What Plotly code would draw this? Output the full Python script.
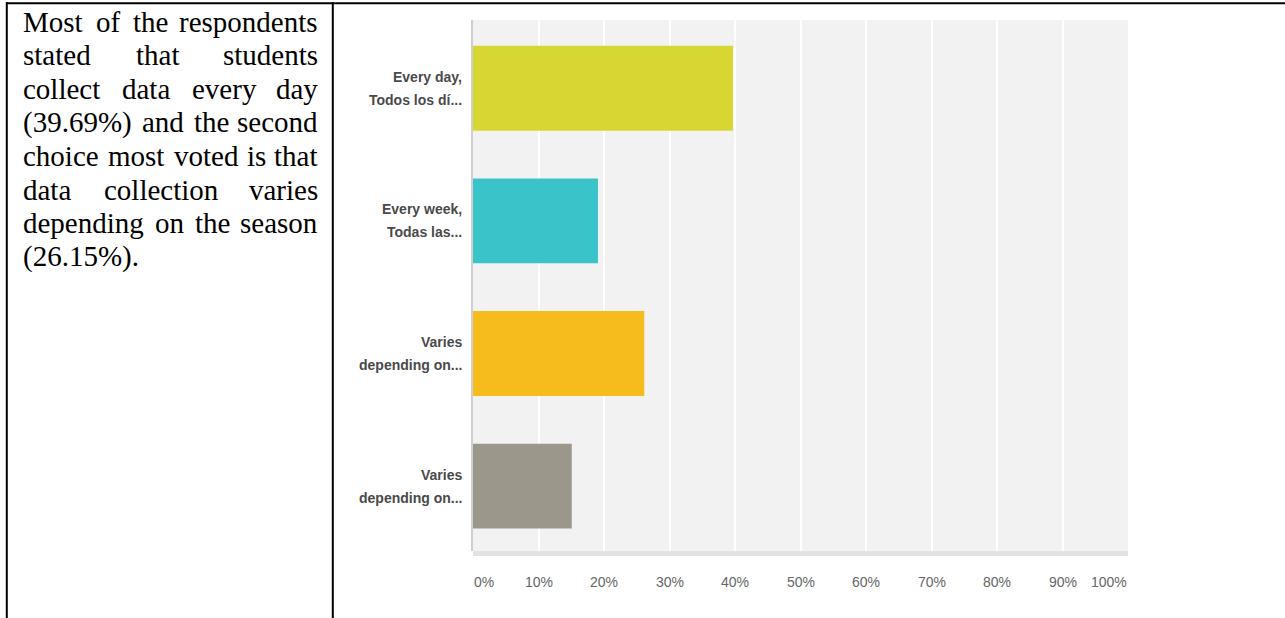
import plotly.graph_objects as go

# ---- data -------------------------------------------------------------
label_lines = [
    ("Every day,", "Todos los dí..."),
    ("Every week,", "Todas las..."),
    ("Varies", "depending on..."),
    ("Varies", "depending on..."),
]
percentages = [39.69, 19.08, 26.15, 15.08]
bar_colors = ["#d7d734", "#3ac4c9", "#f6bc1e", "#9b988b"]

tick_values = [0, 10, 20, 30, 40, 50, 60, 70, 80, 90, 100]
tick_labels = ["0%", "10%", "20%", "30%", "40%", "50%", "60%", "70%", "80%", "90%", "100%"]

body_lines = [
    "Most of the respondents",
    "stated that students",
    "collect data every day",
    "(39.69%) and the second",
    "choice most voted is that",
    "data collection varies",
    "depending on the season",
    "(26.15%).",
]

# ---- page geometry (pixels) ------------------------------------------
W, H = 1285, 618


def px_x(px):
    return px / W


def px_y(py):
    return 1 - py / H


# Times advance widths (1/1000 em) used to justify the text column
TIMES_W = {
    " ": 250, "(": 333, ")": 333, "%": 833, ".": 250,
    "a": 444, "c": 444, "d": 500, "e": 444, "f": 333, "g": 500, "h": 500,
    "i": 278, "l": 278, "m": 778, "n": 500, "o": 500, "p": 500, "r": 333,
    "s": 389, "t": 278, "u": 500, "v": 500, "y": 500, "M": 889,
}


def word_width(word, size):
    return sum(TIMES_W.get(ch, 500) for ch in word) * size / 1000.0


# ---- figure ------------------------------------------------------------
positions = list(range(len(percentages)))

fig = go.Figure(
    go.Bar(
        x=percentages,
        y=positions,
        orientation="h",
        marker=dict(color=bar_colors, line=dict(width=0)),
        width=0.64,
        hoverinfo="skip",
    )
)

annotations = []

# category labels, two lines per bar
for pos, (first, second) in zip(positions, label_lines):
    for text, shift in ((first, 11.5), (second, -11.5)):
        annotations.append(dict(
            x=px_x(463), xref="paper", xanchor="right",
            y=pos, yref="y", yanchor="middle", yshift=shift,
            text=text, showarrow=False, borderpad=0,
            font=dict(family="Liberation Sans, Arial", size=14,
                      color="#4a4a4a", weight="bold"),
        ))

# percentage axis labels
for v, lbl in zip(tick_values, tick_labels):
    anchor = "left" if v == tick_values[0] else ("right" if v == tick_values[-1] else "center")
    annotations.append(dict(
        x=v, xref="x", xanchor=anchor,
        y=px_y(582), yref="paper", yanchor="middle",
        text=lbl, showarrow=False, borderpad=0,
        font=dict(family="Liberation Sans, Arial", size=14, color="#666666"),
    ))

# justified text column on the left
FS = 29
left_px, right_px = 22.0, 318.5
first_center, line_step = 22.0, 33.5
for k, line in enumerate(body_lines):
    words = line.split(" ")
    yc = px_y(first_center + k * line_step)
    font = dict(family="Liberation Serif, Times New Roman, serif", size=FS, color="#000000")
    last_line = k == len(body_lines) - 1
    if len(words) == 1 or last_line:
        annotations.append(dict(
            x=px_x(left_px), xref="paper", xanchor="left",
            y=yc, yref="paper", yanchor="middle",
            text=line, showarrow=False, borderpad=0, font=font,
        ))
        continue
    widths = [word_width(w, FS) for w in words]
    gap = (right_px - left_px - sum(widths)) / (len(words) - 1)
    cursor = left_px
    for i, (w, wd) in enumerate(zip(words, widths)):
        if i == len(words) - 1:
            x, anchor = right_px, "right"
        else:
            x, anchor = cursor, "left"
        annotations.append(dict(
            x=px_x(x), xref="paper", xanchor=anchor,
            y=yc, yref="paper", yanchor="middle",
            text=w, showarrow=False, borderpad=0, font=font,
        ))
        cursor += wd + gap

# table rules and the light baseline under the bars
shapes = [
    dict(type="line", xref="paper", yref="paper",
         x0=px_x(6), x1=px_x(1285), y0=px_y(3.2), y1=px_y(3.2),
         line=dict(color="#000000", width=2)),
    dict(type="line", xref="paper", yref="paper",
         x0=px_x(6.8), x1=px_x(6.8), y0=px_y(2.2), y1=px_y(618),
         line=dict(color="#000000", width=2)),
    dict(type="line", xref="paper", yref="paper",
         x0=px_x(332.8), x1=px_x(332.8), y0=px_y(2.2), y1=px_y(618),
         line=dict(color="#000000", width=2)),
    dict(type="rect", xref="x", yref="paper",
         x0=tick_values[0], x1=tick_values[-1], y0=px_y(556), y1=px_y(551),
         line=dict(width=0), fillcolor="#e3e3e3", layer="above"),
]

fig.update_layout(
    width=W, height=H,
    margin=dict(l=0, r=0, t=0, b=0),
    paper_bgcolor="#ffffff",
    plot_bgcolor="#f2f2f2",
    showlegend=False,
    xaxis=dict(
        domain=[px_x(473), px_x(1128)],
        range=[tick_values[0], tick_values[-1]],
        tickvals=tick_values, showticklabels=False, ticks="",
        showgrid=True, gridcolor="#ffffff", gridwidth=1.5,
        zeroline=False, showline=False, fixedrange=True,
    ),
    yaxis=dict(
        domain=[px_y(551), px_y(20)],
        range=[3.489, -0.515],
        showticklabels=False, ticks="", showgrid=False, zeroline=False,
        showline=True, linecolor="#cfcfcf", linewidth=1.5, fixedrange=True,
    ),
    annotations=annotations,
    shapes=shapes,
)

fig.write_html("out.html", config={"displayModeBar": False})
